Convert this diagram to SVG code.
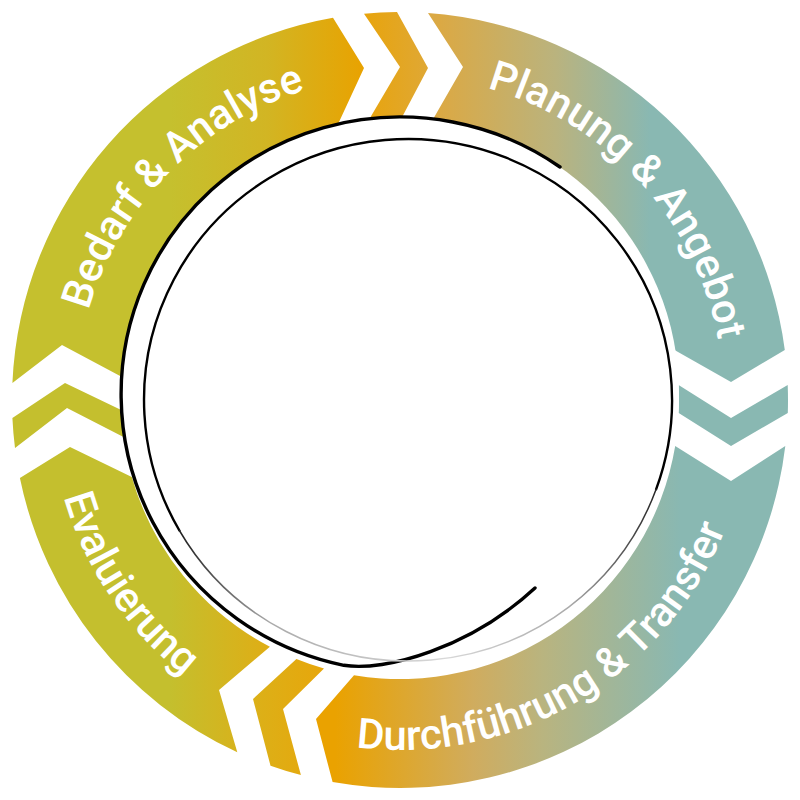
<svg xmlns="http://www.w3.org/2000/svg" width="800" height="800" viewBox="0 0 800 800">
<style>
.lbl{font-family:Roboto,"Liberation Sans",Arial,sans-serif;font-weight:500;font-size:42px;fill:#ffffff}
.loop{fill:none;stroke-linecap:round;stroke-linejoin:round}
</style>
<defs>
<linearGradient id="gBedarf" gradientUnits="userSpaceOnUse" x1="170" y1="0" x2="365" y2="0">
<stop offset="0" stop-color="#c5c02e"/><stop offset="0.5" stop-color="#d2b523"/><stop offset="1" stop-color="#e9a200"/>
</linearGradient>
<linearGradient id="gTopBand" gradientUnits="userSpaceOnUse" x1="364" y1="0" x2="430" y2="0">
<stop offset="0" stop-color="#e8a40c"/><stop offset="1" stop-color="#dfa836"/>
</linearGradient>
<linearGradient id="gPlanung" gradientUnits="userSpaceOnUse" x1="440" y1="0" x2="650" y2="0">
<stop offset="0" stop-color="#dba944"/><stop offset="0.55" stop-color="#bab37e"/><stop offset="1" stop-color="#89b8b2"/>
</linearGradient>
<linearGradient id="gDurch" gradientUnits="userSpaceOnUse" x1="335" y1="0" x2="680" y2="0">
<stop offset="0" stop-color="#eaa200"/><stop offset="0.4" stop-color="#d0ac5e"/><stop offset="0.6" stop-color="#b9b47f"/><stop offset="1" stop-color="#89b8b2"/>
</linearGradient>
<linearGradient id="gBotBand" gradientUnits="userSpaceOnUse" x1="250" y1="0" x2="325" y2="0">
<stop offset="0" stop-color="#dbb119"/><stop offset="1" stop-color="#e7a60b"/>
</linearGradient>
<linearGradient id="gEval" gradientUnits="userSpaceOnUse" x1="170" y1="0" x2="265" y2="0">
<stop offset="0" stop-color="#c4bf2e"/><stop offset="1" stop-color="#deae16"/>
</linearGradient>
<linearGradient id="gFade" gradientUnits="userSpaceOnUse" x1="170" y1="0" x2="670" y2="0">
<stop offset="0" stop-color="#111"/><stop offset="0.2" stop-color="#aaa"/><stop offset="0.55" stop-color="#d8d8d8"/><stop offset="0.8" stop-color="#aaa"/><stop offset="1" stop-color="#111"/>
</linearGradient>
<path id="arcTop" d="M 95.5,510.8 A 324 324 0 1 1 704.5,510.8"/>
<path id="arcBottom" d="M 71.1,280.3 A 350 350 0 1 0 728.9,280.3"/>
</defs>
<rect width="800" height="800" fill="#ffffff"/>

<g id="bedarf">
<path fill="url(#gBedarf)" d="M 12.4,383 A 388 388 0 0 1 333,17.8 L 364,68 L 336,128.4 A 279 279 0 0 0 122,377 L 62,345 Z"/>
<text class="lbl" text-anchor="middle"><textPath href="#arcTop" startOffset="364.7">Bedarf &amp; Analyse</textPath></text>
</g>
<g id="planung">
<path fill="url(#gPlanung)" d="M 428,13 A 388 388 0 0 1 784.8,350 L 731,382 L 674.5,350 A 279 279 0 0 0 431,122.7 L 463,67 Z"/>
<text class="lbl" text-anchor="middle"><textPath href="#arcTop" startOffset="890">Planung &amp; Angebot</textPath></text>
</g>
<g id="durchfuehrung">
<path fill="url(#gDurch)" d="M 785.3,446 A 388 388 0 0 1 332.6,782.1 L 316,719 L 354,675.2 A 279 279 0 0 0 675.2,446 L 731,481 Z"/>
<text class="lbl" text-anchor="middle"><textPath href="#arcBottom" startOffset="858.6">Durchführung &amp; Transfer</textPath></text>
</g>
<g id="evaluierung">
<path fill="url(#gEval)" d="M 237.3,752.2 A 388 388 0 0 1 19.9,478 L 70,447 L 131.8,477 A 279 279 0 0 0 269.9,646.8 L 219,690 Z"/>
<text class="lbl" text-anchor="middle"><textPath href="#arcBottom" startOffset="329.9">Evaluierung</textPath></text>
</g>

<g id="connectors">
<path fill="url(#gTopBand)" d="M 364,13.7 A 388 388 0 0 1 397,12 L 428,68 L 400,121 A 279 279 0 0 0 367,123 L 400,67 Z"/>
<path fill="#89b8b2" d="M 787.7,385 A 388 388 0 0 1 787.8,413 L 731,446 L 678.7,413 A 279 279 0 0 0 678.6,385 L 731,418 Z"/>
<path fill="url(#gBotBand)" d="M 300.9,775.1 A 388 388 0 0 1 270.5,765.7 L 253,699 L 296.4,659 A 279 279 0 0 0 324,668.5 L 283,709 Z"/>
<path fill="#c4bf2e" d="M 15,448 A 388 388 0 0 1 12.4,418 L 65,383 L 121.2,410 A 279 279 0 0 0 123.5,437 L 67,408 Z"/>
</g>

<g id="center">
<ellipse cx="400" cy="394" rx="279" ry="277" fill="#ffffff"/>
<path class="loop" stroke="#000" stroke-width="3.4" d="M 560,167 A 279 277 0 1 0 343.8,665.3 C 385,672 470,648 535,588"/>
<path class="loop" stroke="#000" stroke-width="2.4" d="M 179.4,530.5 A 264 261 0 1 1 656.1,489.3"/>
<path class="loop" stroke="url(#gFade)" stroke-width="1.5" d="M 656.1,489.3 A 264 261 0 0 1 179.4,530.5"/>
</g>
</svg>
